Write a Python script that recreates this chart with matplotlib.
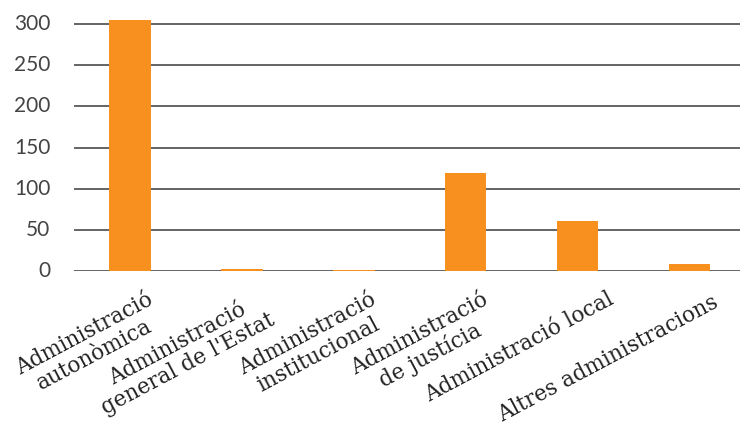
import matplotlib
matplotlib.use('Agg')
import matplotlib.pyplot as plt
import matplotlib.transforms as mtransforms

categories = ['Administració\nautonòmica', 'Administració\ngeneral de l\'Estat',
              'Administració\ninstitucional', 'Administració\nde justícia',
              'Administració local', 'Altres administracions']
values = [305, 3, 1, 119, 61, 8.5]
yticks = [0, 50, 100, 150, 200, 250, 300]

orange = '#F7901E'

fig = plt.figure(figsize=(7.4, 4.27), dpi=100)
ax = fig.add_axes([0.1, 0.363, 0.9, 0.617])

x = list(range(len(categories)))
ax.bar(x, values, width=0.37, color=orange, zorder=3)

ax.set_xlim(-0.5, 5.45)
ax.set_ylim(0, 320)
ax.set_yticks(yticks)
for t in yticks:
    ax.axhline(t, color='#3a3a3a', lw=1.1, zorder=1)

for s in ax.spines.values():
    s.set_visible(False)
ax.tick_params(axis='y', length=0, pad=17, labelsize=15, labelcolor='#444444')
ax.tick_params(axis='x', length=0, pad=0)
yshift = mtransforms.ScaledTranslation(0, 3 / 100, fig.dpi_scale_trans)
for lab in ax.get_yticklabels():
    lab.set_family('Lato')
    lab.set_transform(lab.get_transform() + yshift)

ax.set_xticks(x)
ax.set_xticklabels(categories, rotation=28, ha='right', va='top',
                   rotation_mode='anchor', multialignment='center',
                   family='DejaVu Serif', fontsize=15.5, color='#222222',
                   linespacing=1.05)
# per-label shift in pixels (right, down)
shifts = [(16, 17), (16, 17), (16, 17), (16, 17), (30, 16), (22, 19)]
for lab, (dx, dy) in zip(ax.get_xticklabels(), shifts):
    off = mtransforms.ScaledTranslation(dx / 100, -dy / 100, fig.dpi_scale_trans)
    lab.set_transform(lab.get_transform() + off)

fig.savefig('out.png', dpi=100)
